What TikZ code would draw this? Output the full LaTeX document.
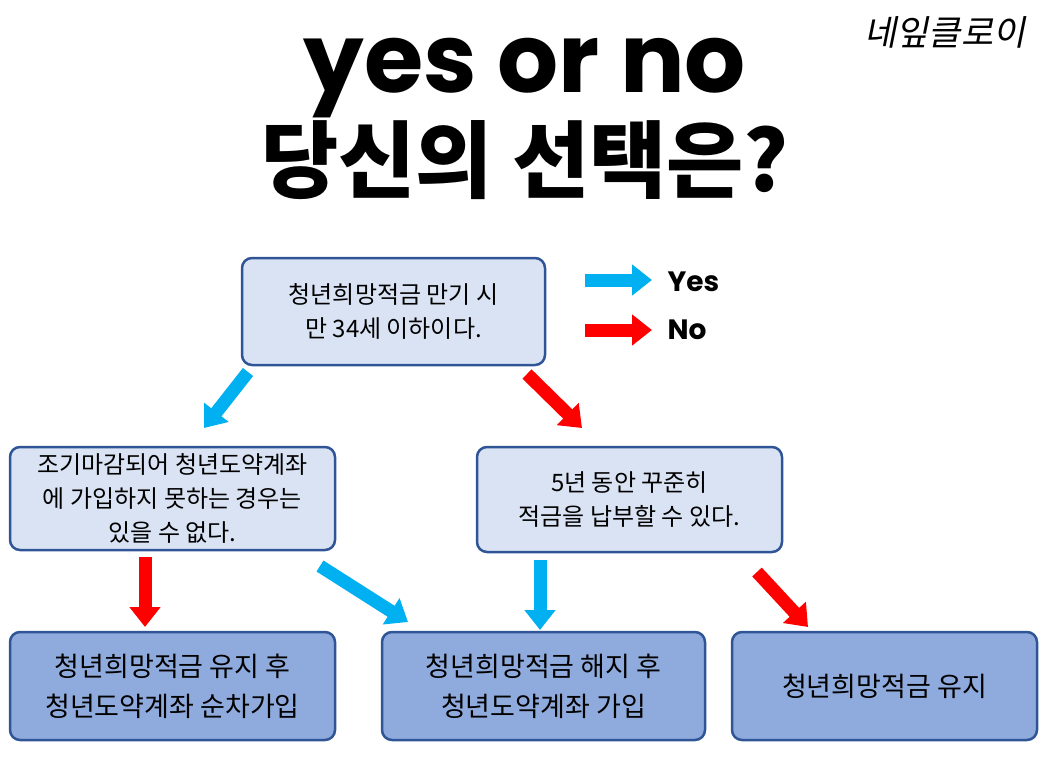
\documentclass[tikz,border=0pt]{standalone}
\usepackage{fontspec}
\usetikzlibrary{arrows.meta}
\newfontfamily\cjk{Noto Sans CJK KR}[BoldFont={* Black}]
\newfontfamily\cjkit{Noto Sans CJK KR}[FakeSlant=0.2]
\newfontfamily\pop{Poppins}[BoldFont={* Bold}]
\definecolor{lb}{HTML}{DAE3F3}
\definecolor{db}{HTML}{8FAADC}
\definecolor{bd}{HTML}{2F5597}
\definecolor{cy}{HTML}{00B0F0}
\definecolor{rd}{HTML}{FF0000}
\tikzset{x=1pt,y=-1pt,
 boxa/.style={draw=bd,line width=2.5pt,rounded corners=10pt,fill=lb,align=center,font=\cjk\fontsize{24}{34}\selectfont},
 boxb/.style={draw=bd,line width=2.5pt,rounded corners=10pt,fill=db,align=center,font=\cjk\fontsize{27}{40}\selectfont},
 ya/.style={cy,line width=13pt,-{Triangle[width=30pt,length=20pt]}},
 na/.style={rd,line width=13pt,-{Triangle[width=30pt,length=20pt]}}}
\begin{document}
\begin{tikzpicture}
\useasboundingbox (0,0) rectangle (1050,765);
\node (t1) at (525,78) {\pop\bfseries\fontsize{96}{96}\selectfont yes or no};
\node (t2) at (525,160) {\cjk\bfseries\fontsize{84}{84}\selectfont 당신의 선택은?};
\node (sig) at (945,32) {\cjkit\fontsize{35}{35}\selectfont 네잎클로이};
\draw[boxa] (242,258) rectangle node (q1) {청년희망적금 만기 시\\만 34세 이하이다.} (545,365);
\draw[boxa] (10,447) rectangle node (q2) {조기마감되어 청년도약계좌\\에 가입하지 못하는 경우는\\있을 수 없다.} (335,550);
\draw[boxa] (477,447) rectangle node (q3) {5년 동안 꾸준히\\적금을 납부할 수 있다.} (782,552);
\draw[boxb] (10,632) rectangle node (r1) {청년희망적금 유지 후\\청년도약계좌 순차가입} (335,740);
\draw[boxb] (382,632) rectangle node (r2) {청년희망적금 해지 후\\청년도약계좌 가입} (705,740);
\draw[boxb] (732,632) rectangle node (r3) {청년희망적금 유지} (1037,740);
\coordinate (l1a) at (585,280); \coordinate (l1b) at (652,280);
\coordinate (l2a) at (585,330); \coordinate (l2b) at (652,330);
\draw[ya] (l1a) -- (l1b);
\draw[na] (l2a) -- (l2b);
\node[anchor=west,font=\pop\bfseries\fontsize{28}{28}\selectfont] (yes) at (664,282) {Yes};
\node[anchor=west,font=\pop\bfseries\fontsize{28}{28}\selectfont] (no) at (664,330) {No};
\coordinate (a1) at (248,372); \coordinate (b1) at (204,428);
\coordinate (a2) at (527,374); \coordinate (b2) at (582,428);
\coordinate (a3) at (145,557); \coordinate (b3) at (145,627);
\coordinate (a4) at (320,566); \coordinate (b4) at (408,622);
\coordinate (a5) at (540,560); \coordinate (b5) at (540,630);
\coordinate (a6) at (757,572); \coordinate (b6) at (808,627);
\draw[ya] (a1) -- (b1);
\draw[na] (a2) -- (b2);
\draw[na] (a3) -- (b3);
\draw[ya] (a4) -- (b4);
\draw[ya] (a5) -- (b5);
\draw[na] (a6) -- (b6);
\end{tikzpicture}
\end{document}
